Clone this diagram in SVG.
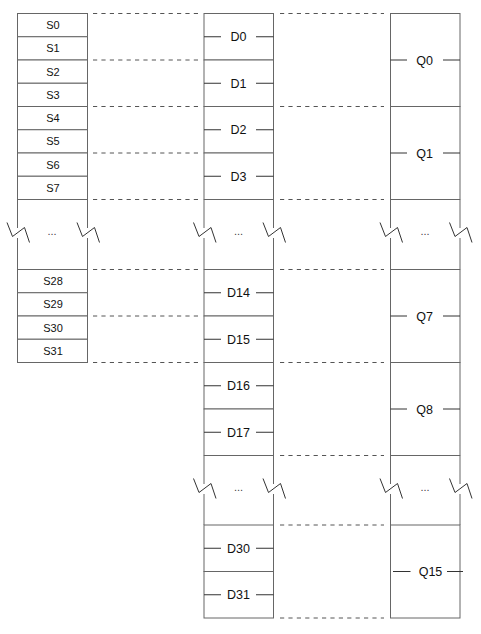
<svg xmlns="http://www.w3.org/2000/svg" xmlns:xlink="http://www.w3.org/1999/xlink" width="481" height="634" viewBox="0 0 481 634">
<style>
.box{fill:#fff;stroke:#666;stroke-width:1}
.edge{stroke:#666;stroke-width:1;fill:none}
.dash{stroke:#555;stroke-width:1;stroke-dasharray:4.2 4.2;fill:none}
.tick{stroke:#333;stroke-width:1}
.zz{stroke:#333;stroke-width:1;fill:none}
.s{font-family:"Liberation Sans",Arial,sans-serif;font-size:11px;fill:#111;text-anchor:middle}
.d{font-family:"Liberation Sans",Arial,sans-serif;font-size:12.5px;fill:#111;text-anchor:middle}
.dots{font-family:"Liberation Sans",Arial,sans-serif;font-size:11px;fill:#444;text-anchor:middle}
</style>
<defs>
<path id="zz" class="zz" d="M-10.5 -9.5 L-5 4.5 L7 -4.5 L12 10.5"/>
</defs>
<rect width="481" height="634" fill="#fff"/>

<!-- connectors -->
<g id="connectors">
<line class="dash" x1="93" y1="13.5" x2="198" y2="13.5"/>
<line class="dash" x1="93" y1="60" x2="198" y2="60"/>
<line class="dash" x1="93" y1="106.5" x2="198" y2="106.5"/>
<line class="dash" x1="93" y1="153" x2="198" y2="153"/>
<line class="dash" x1="93" y1="199.5" x2="198" y2="199.5"/>
<line class="dash" x1="93" y1="269.5" x2="198" y2="269.5"/>
<line class="dash" x1="93" y1="316" x2="198" y2="316"/>
<line class="dash" x1="93" y1="362.5" x2="198" y2="362.5"/>
<line class="dash" x1="280" y1="13.5" x2="384" y2="13.5"/>
<line class="dash" x1="280" y1="106.5" x2="384" y2="106.5"/>
<line class="dash" x1="280" y1="199.5" x2="384" y2="199.5"/>
<line class="dash" x1="280" y1="269.5" x2="384" y2="269.5"/>
<line class="dash" x1="280" y1="362.5" x2="384" y2="362.5"/>
<line class="dash" x1="280" y1="455.5" x2="384" y2="455.5"/>
<line class="dash" x1="280" y1="525" x2="384" y2="525"/>
<line class="dash" x1="280" y1="618" x2="384" y2="618"/>
</g>

<!-- S column -->
<g id="S0"><rect class="box" x="17.5" y="13.5" width="70" height="23.25"/><text class="s" x="53" y="29">S0</text></g>
<g id="S1"><rect class="box" x="17.5" y="36.75" width="70" height="23.25"/><text class="s" x="53" y="52">S1</text></g>
<g id="S2"><rect class="box" x="17.5" y="60" width="70" height="23.25"/><text class="s" x="53" y="75.5">S2</text></g>
<g id="S3"><rect class="box" x="17.5" y="83.25" width="70" height="23.25"/><text class="s" x="53" y="98.5">S3</text></g>
<g id="S4"><rect class="box" x="17.5" y="106.5" width="70" height="23.25"/><text class="s" x="53" y="122">S4</text></g>
<g id="S5"><rect class="box" x="17.5" y="129.75" width="70" height="23.25"/><text class="s" x="53" y="145">S5</text></g>
<g id="S6"><rect class="box" x="17.5" y="153" width="70" height="23.25"/><text class="s" x="53" y="168.5">S6</text></g>
<g id="S7"><rect class="box" x="17.5" y="176.25" width="70" height="23.25"/><text class="s" x="53" y="191.5">S7</text></g>
<g id="S28"><rect class="box" x="17.5" y="269.5" width="70" height="23.25"/><text class="s" x="53" y="285">S28</text></g>
<g id="S29"><rect class="box" x="17.5" y="292.75" width="70" height="23.25"/><text class="s" x="53" y="308">S29</text></g>
<g id="S30"><rect class="box" x="17.5" y="316" width="70" height="23.25"/><text class="s" x="53" y="331.5">S30</text></g>
<g id="S31"><rect class="box" x="17.5" y="339.25" width="70" height="23.25"/><text class="s" x="53" y="354.5">S31</text></g>

<!-- D column -->
<g id="D0"><rect class="box" x="204" y="13.5" width="69.5" height="46.5"/><line class="tick" x1="204" y1="36.75" x2="221" y2="36.75"/><line class="tick" x1="256" y1="36.75" x2="273.5" y2="36.75"/><text class="d" x="238.5" y="41.2">D0</text></g>
<g id="D1"><rect class="box" x="204" y="60" width="69.5" height="46.5"/><line class="tick" x1="204" y1="83.25" x2="221" y2="83.25"/><line class="tick" x1="256" y1="83.25" x2="273.5" y2="83.25"/><text class="d" x="238.5" y="87.7">D1</text></g>
<g id="D2"><rect class="box" x="204" y="106.5" width="69.5" height="46.5"/><line class="tick" x1="204" y1="129.75" x2="221" y2="129.75"/><line class="tick" x1="256" y1="129.75" x2="273.5" y2="129.75"/><text class="d" x="238.5" y="134.2">D2</text></g>
<g id="D3"><rect class="box" x="204" y="153" width="69.5" height="46.5"/><line class="tick" x1="204" y1="176.25" x2="221" y2="176.25"/><line class="tick" x1="256" y1="176.25" x2="273.5" y2="176.25"/><text class="d" x="238.5" y="180.7">D3</text></g>
<g id="D14"><rect class="box" x="204" y="269.5" width="69.5" height="46.5"/><line class="tick" x1="204" y1="292.75" x2="221" y2="292.75"/><line class="tick" x1="256" y1="292.75" x2="273.5" y2="292.75"/><text class="d" x="238.5" y="297.2">D14</text></g>
<g id="D15"><rect class="box" x="204" y="316" width="69.5" height="46.5"/><line class="tick" x1="204" y1="339.25" x2="221" y2="339.25"/><line class="tick" x1="256" y1="339.25" x2="273.5" y2="339.25"/><text class="d" x="238.5" y="343.7">D15</text></g>
<g id="D16"><rect class="box" x="204" y="362.5" width="69.5" height="46.5"/><line class="tick" x1="204" y1="385.75" x2="221" y2="385.75"/><line class="tick" x1="256" y1="385.75" x2="273.5" y2="385.75"/><text class="d" x="238.5" y="390.2">D16</text></g>
<g id="D17"><rect class="box" x="204" y="409" width="69.5" height="46.5"/><line class="tick" x1="204" y1="432.25" x2="221" y2="432.25"/><line class="tick" x1="256" y1="432.25" x2="273.5" y2="432.25"/><text class="d" x="238.5" y="436.7">D17</text></g>
<g id="D30"><rect class="box" x="204" y="525" width="69.5" height="46.5"/><line class="tick" x1="204" y1="548.25" x2="221" y2="548.25"/><line class="tick" x1="256" y1="548.25" x2="273.5" y2="548.25"/><text class="d" x="238.5" y="552.7">D30</text></g>
<g id="D31"><rect class="box" x="204" y="571.5" width="69.5" height="46.5"/><line class="tick" x1="204" y1="594.75" x2="221" y2="594.75"/><line class="tick" x1="256" y1="594.75" x2="273.5" y2="594.75"/><text class="d" x="238.5" y="599.2">D31</text></g>

<!-- Q column -->
<g id="Q0"><rect class="box" x="390.5" y="13.5" width="69.5" height="93"/><line class="tick" x1="390.5" y1="60" x2="407" y2="60"/><line class="tick" x1="443" y1="60" x2="460" y2="60"/><text class="d" x="424.5" y="64.5">Q0</text></g>
<g id="Q1"><rect class="box" x="390.5" y="106.5" width="69.5" height="93"/><line class="tick" x1="390.5" y1="153" x2="407" y2="153"/><line class="tick" x1="443" y1="153" x2="460" y2="153"/><text class="d" x="424.5" y="157.5">Q1</text></g>
<g id="Q7"><rect class="box" x="390.5" y="269.5" width="69.5" height="93"/><line class="tick" x1="390.5" y1="316" x2="407" y2="316"/><line class="tick" x1="443" y1="316" x2="460" y2="316"/><text class="d" x="424.5" y="320.5">Q7</text></g>
<g id="Q8"><rect class="box" x="390.5" y="362.5" width="69.5" height="93"/><line class="tick" x1="390.5" y1="409" x2="407" y2="409"/><line class="tick" x1="443" y1="409" x2="460" y2="409"/><text class="d" x="424.5" y="413.5">Q8</text></g>
<g id="Q15"><rect class="box" x="390.5" y="525" width="69.5" height="93"/><line class="tick" x1="393" y1="571.5" x2="410.5" y2="571.5"/><line class="tick" x1="447" y1="571.5" x2="463" y2="571.5"/><text class="d" x="430.5" y="576">Q15</text></g>

<!-- breaks -->
<g id="breaks">
<path class="edge" d="M17.5 199.5 V228 M17.5 238 V269.5 M87.5 199.5 V228 M87.5 238 V269.5"/>
<path class="edge" d="M204 199.5 V228 M204 238 V269.5 M273.5 199.5 V228 M273.5 238 V269.5"/>
<path class="edge" d="M390.5 199.5 V228 M390.5 238 V269.5 M460 199.5 V228 M460 238 V269.5"/>
<path class="edge" d="M204 455.5 V484 M204 494 V525 M273.5 455.5 V484 M273.5 494 V525"/>
<path class="edge" d="M390.5 455.5 V484 M390.5 494 V525 M460 455.5 V484 M460 494 V525"/>
<use xlink:href="#zz" x="17.5" y="232"/>
<use xlink:href="#zz" x="87.5" y="232"/>
<use xlink:href="#zz" x="204" y="232"/>
<use xlink:href="#zz" x="273.5" y="232"/>
<use xlink:href="#zz" x="390.5" y="232"/>
<use xlink:href="#zz" x="460" y="232"/>
<use xlink:href="#zz" x="204" y="488"/>
<use xlink:href="#zz" x="273.5" y="488"/>
<use xlink:href="#zz" x="390.5" y="488"/>
<use xlink:href="#zz" x="460" y="488"/>
<text class="dots" x="52" y="235">...</text>
<text class="dots" x="238.5" y="235">...</text>
<text class="dots" x="425" y="235">...</text>
<text class="dots" x="238.5" y="491">...</text>
<text class="dots" x="425" y="491">...</text>
</g>
</svg>
